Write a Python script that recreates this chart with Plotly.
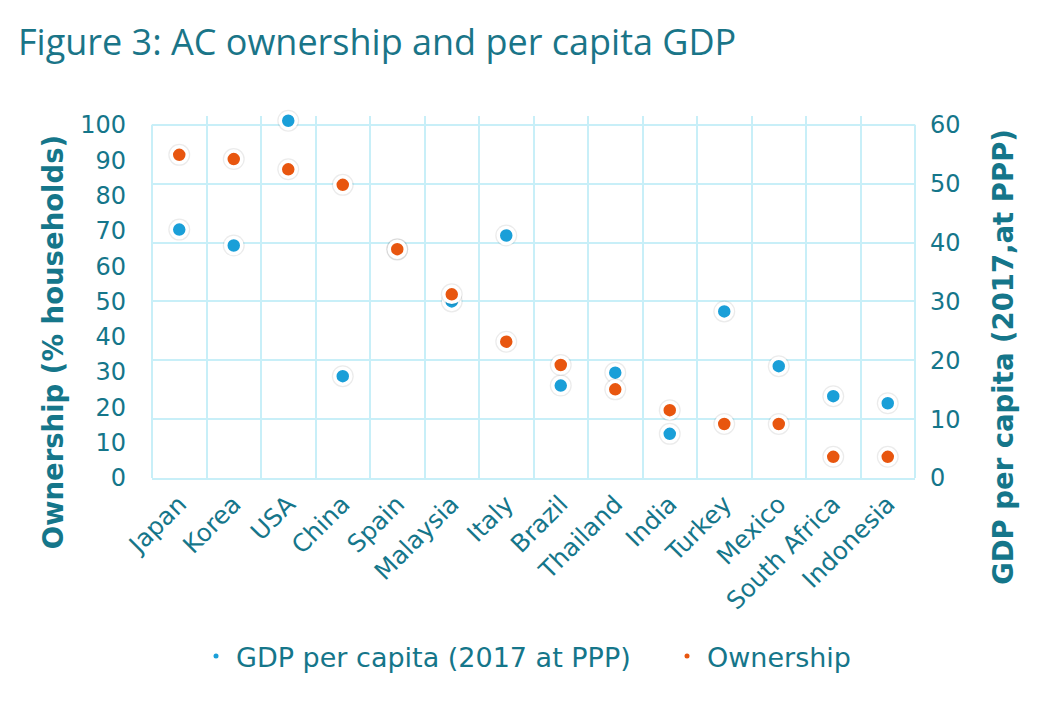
import plotly.graph_objects as go

countries = ["Japan", "Korea", "USA", "China", "Spain", "Malaysia", "Italy", "Brazil",
             "Thailand", "India", "Turkey", "Mexico", "South Africa", "Indonesia"]
gdp_per_capita = [42.2, 39.5, 60.7, 17.3, 38.8, 30.0, 41.2, 15.7, 17.9, 7.5, 28.3, 19.0, 13.9, 12.7]
ownership = [91.5, 90.3, 87.4, 83.0, 64.8, 52.0, 38.6, 32.0, 25.1, 19.2, 15.3, 15.3, 6.0, 6.0]

left_ticks = list(range(0, 101, 10))
right_ticks = list(range(0, 61, 10))
GDP_MAX = 60
OWN_MAX = 100
HEADROOM = 1.025  # room above the top gridline so the USA point is not hidden

BLUE = "#1a9fd8"
ORANGE = "#e8560f"
TEXT = "#15768a"
GRID = "#c8eff8"
FONT = "Verdana, DejaVu Sans, sans-serif"

fig = go.Figure()

# soft shadows
fig.add_trace(go.Scatter(x=countries, y=gdp_per_capita, mode="markers", yaxis="y",
                         marker=dict(size=22, color="rgba(0,0,0,0.08)", line=dict(width=0)),
                         showlegend=False, hoverinfo="skip", cliponaxis=False))
fig.add_trace(go.Scatter(x=countries, y=gdp_per_capita, mode="markers", yaxis="y",
                         name="GDP per capita (2017 at PPP)",
                         marker=dict(size=16, color=BLUE, line=dict(width=3.5, color="white")),
                         showlegend=False, cliponaxis=False))
fig.add_trace(go.Scatter(x=countries, y=ownership, mode="markers", yaxis="y2",
                         marker=dict(size=22, color="rgba(0,0,0,0.08)", line=dict(width=0)),
                         showlegend=False, hoverinfo="skip", cliponaxis=False))
fig.add_trace(go.Scatter(x=countries, y=ownership, mode="markers", yaxis="y2",
                         name="Ownership",
                         marker=dict(size=16, color=ORANGE, line=dict(width=3.5, color="white")),
                         showlegend=False, cliponaxis=False))

# legend entries (small dots), each in its own legend box
fig.add_trace(go.Scatter(x=[None], y=[None], mode="markers", name="GDP per capita (2017 at PPP)",
                         marker=dict(size=5, color=BLUE), legend="legend"))
fig.add_trace(go.Scatter(x=[None], y=[None], mode="markers", name="Ownership", yaxis="y2",
                         marker=dict(size=5, color=ORANGE), legend="legend2"))

# white band above the top gridline hides the vertical gridlines there
fig.add_shape(type="rect", xref="paper", yref="y", x0=-0.01, x1=1.01,
              y0=GDP_MAX + 0.17, y1=GDP_MAX * HEADROOM + 1,
              fillcolor="white", line=dict(width=0), layer="between")
# left and right frame lines of the grid box
for edge in (0, 1):
    fig.add_shape(type="line", xref="paper", yref="y", x0=edge, x1=edge, y0=0, y1=GDP_MAX,
                  line=dict(color=GRID, width=2), layer="between")

legend_style = dict(orientation="h", y=-0.493, yanchor="middle", xanchor="left",
                    font=dict(size=27, color=TEXT), itemsizing="trace",
                    bgcolor="rgba(0,0,0,0)")

fig.update_layout(
    width=1052, height=714,
    margin=dict(l=144, r=145, t=108, b=244),
    paper_bgcolor="white", plot_bgcolor="white",
    font=dict(family=FONT, color=TEXT, size=24),
    title=dict(text="Figure 3: AC ownership and per capita GDP",
               font=dict(family="Open Sans, sans-serif", size=36, color="#1a7588"),
               xref="container", x=10/1052, xanchor="left",
               yref="container", y=1-34/714, yanchor="middle"),
    xaxis=dict(type="category", categoryorder="array", categoryarray=countries,
               range=[-0.5, len(countries) - 0.5],
               tickson="boundaries", showgrid=True, gridcolor=GRID, gridwidth=2,
               showline=True, linecolor=GRID, linewidth=2, mirror=False,
               ticks="", tickangle=-45, tickfont=dict(size=24.5, color=TEXT)),
    yaxis=dict(side="right", range=[0, GDP_MAX * HEADROOM], tickvals=right_ticks,
               showgrid=True, gridcolor=GRID, gridwidth=2, zeroline=False,
               showline=False, ticks="", ticklabelstandoff=14,
               tickfont=dict(size=24, color=TEXT)),
    yaxis2=dict(side="left", overlaying="y", range=[0, OWN_MAX * HEADROOM], tickvals=left_ticks,
                showgrid=False, zeroline=False, ticks="", ticklabelstandoff=25,
                tickfont=dict(size=24, color=TEXT)),
    legend=dict(x=0.0577, **legend_style),
    legend2=dict(x=0.675, **legend_style),
    annotations=[
        dict(text="<b>Ownership (% households)</b>", textangle=-90, showarrow=False,
             xref="paper", yref="paper", x=-0.13, y=0.377, xanchor="center", yanchor="middle",
             font=dict(size=27.5, color=TEXT)),
        dict(text="<b>GDP per capita (2017,at PPP)</b>", textangle=-90, showarrow=False,
             xref="paper", yref="paper", x=1.115, y=0.334, xanchor="center", yanchor="middle",
             font=dict(size=27.5, color=TEXT)),
    ],
)

fig.write_html("out.html")
